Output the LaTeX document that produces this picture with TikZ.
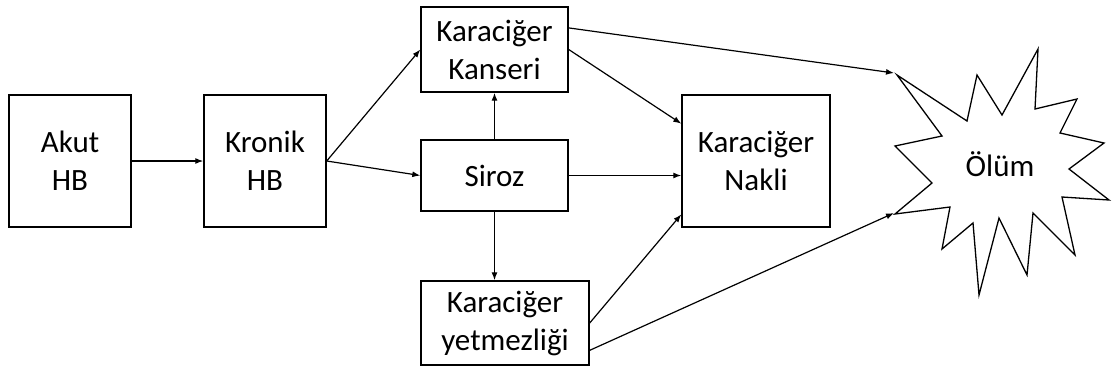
\documentclass[tikz,border=0pt]{standalone}
\usepackage{fontspec}
\setmainfont{Carlito}
\usetikzlibrary{arrows.meta,calc}

\begin{document}
\begin{tikzpicture}[
    x=1pt, y=-1pt,
    ->,
    >={Latex[length=8pt,width=6pt]},
    line width=1.2pt,
    box/.style={rectangle, draw, line width=1.4pt, align=center, inner sep=0pt, font=\fontsize{31}{38}\selectfont}
  ]
  \useasboundingbox (0,0) rectangle (1118,376);

  % kutular
  \node[box, minimum width=122pt, minimum height=132pt] (akut)   at (70,161)    {Akut\\HB};
  \node[box, minimum width=122pt, minimum height=132pt] (kronik) at (265,161)   {Kronik\\HB};
  \node[box, minimum width=147pt, minimum height=85pt]  (kanser) at (494.5,49.5) {Karaciğer\\Kanseri};
  \node[box, minimum width=147pt, minimum height=71pt]  (siroz)  at (494.5,175.5) {Siroz};
  \node[box, minimum width=168pt, minimum height=84pt]  (yetmez) at (505,323)   {Karaciğer\\yetmezliği};
  \node[box, minimum width=148pt, minimum height=132pt] (nakil)  at (756,161)   {Karaciğer\\Nakli};

  % patlama
  \draw[-, line width=1.3pt] (897,75) -- (967,121) -- (977,75) -- (1002,115) -- (1038,49) -- (1035,109)
    -- (1077,99) -- (1060,133) -- (1104,143) -- (1069,169) -- (1109,200) -- (1062,197)
    -- (1075,255) -- (1033,213) -- (1027,275) -- (999,218) -- (979,295) -- (973,223)
    -- (942,249) -- (950,207) -- (895,214) -- (932,183) -- (895,146) -- (942,136) -- cycle;
  \node[font=\fontsize{31}{38}\selectfont] (olum) at (1000,164) {Ölüm};
  \coordinate (olumA) at (894,73);
  \coordinate (olumB) at (894,213);

  % HB oklari
  \draw (akut) -- (kronik);
  \draw (kronik.east) -- (kanser.west);
  \draw (kronik.east) -- (siroz.west);

  % Siroz oklari
  \draw (siroz) -- (kanser);
  \draw (siroz.south) -- (siroz.south |- yetmez.north);
  \draw (siroz.east) -- (siroz.east -| nakil.west);

  % nakil ve olum
  \draw (kanser.east) -- ($(nakil.north west)!0.22!(nakil.south west)$);
  \draw ($(kanser.north east)!0.25!(kanser.south east)$) -- (olumA);
  \draw (yetmez.east) -- ($(nakil.north west)!0.9!(nakil.south west)$);
  \draw ($(yetmez.north east)!0.82!(yetmez.south east)$) -- (olumB);

\end{tikzpicture}
\end{document}
